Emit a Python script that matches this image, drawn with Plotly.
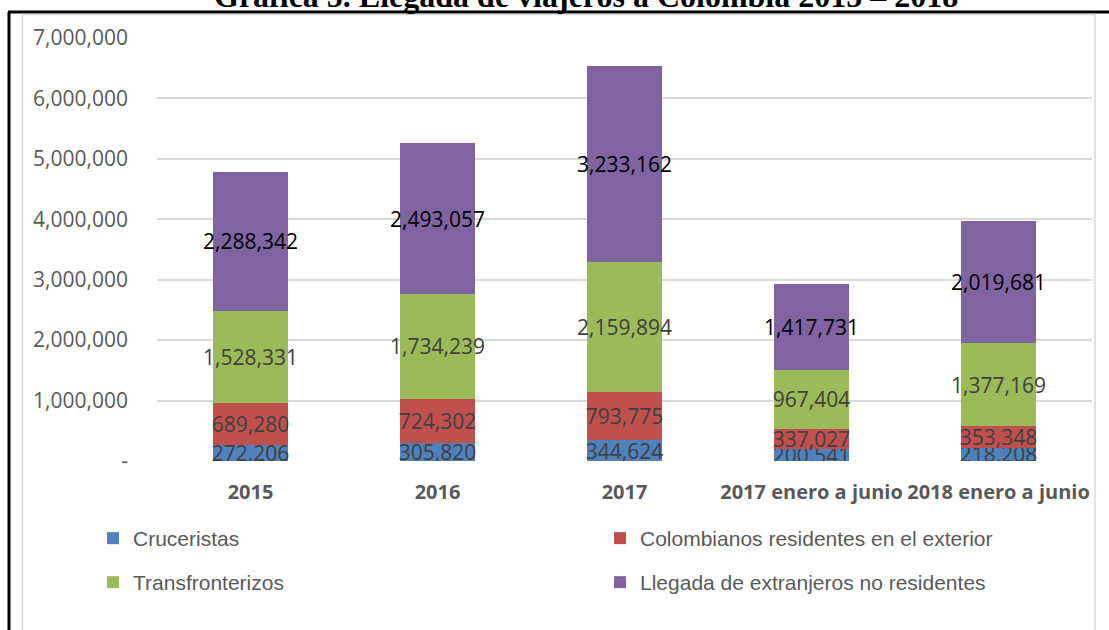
import plotly.graph_objects as go

categories = ["2015", "2016", "2017", "2017 enero a junio", "2018 enero a junio"]
cruceristas = [272206, 305820, 344624, 200541, 218208]
colombianos = [689280, 724302, 793775, 337027, 353348]
transfronterizos = [1528331, 1734239, 2159894, 967404, 1377169]
extranjeros = [2288342, 2493057, 3233162, 1417731, 2019681]
series_names = ["Cruceristas", "Colombianos residentes en el exterior",
                "Transfronterizos", "Llegada de extranjeros no residentes"]
y_tickvals = [0, 1000000, 2000000, 3000000, 4000000, 5000000, 6000000, 7000000]
y_ticktext = ["-", "1,000,000", "2,000,000", "3,000,000", "4,000,000",
              "5,000,000", "6,000,000", "7,000,000"]
title_text = "Gráfica 5. Llegada de viajeros a Colombia 2015 – 2018"

colors = ["#4F81BD", "#C0504D", "#9BBB59", "#8064A2"]
label_colors = ["#404040", "#404040", "#404040", "#000000"]
legends = ["legend", "legend", "legend2", "legend2"]
W, H = 1109, 630
L, R, T, B = 157, 1092, 38, 461

def px_x(px):
    return (px - L) / (R - L)

def px_y(py):
    return (B - py) / (B - T)

fig = go.Figure()
for name, vals, c, lc, lg in zip(series_names,
                                 [cruceristas, colombianos, transfronterizos, extranjeros],
                                 colors, label_colors, legends):
    fig.add_trace(go.Bar(
        x=categories, y=vals, name=name, marker=dict(color=c, line=dict(width=0)),
        text=[f"{v:,}" for v in vals], textposition="inside", textangle=0,
        insidetextanchor="middle", constraintext="none",
        insidetextfont=dict(family="Open Sans", size=21, color=lc),
        legend=lg, width=0.4,
    ))

grey = "#D9D9D9"
shapes = [
    dict(type="line", xref="paper", yref="paper", x0=px_x(8), x1=px_x(1109),
         y0=px_y(12), y1=px_y(12), line=dict(color="black", width=3)),
    dict(type="line", xref="paper", yref="paper", x0=px_x(9), x1=px_x(9),
         y0=px_y(12), y1=px_y(640), line=dict(color="black", width=3)),
    dict(type="rect", xref="paper", yref="paper", x0=px_x(22.5), x1=px_x(1095),
         y0=px_y(650), y1=px_y(14.5), line=dict(color=grey, width=1.5)),
]

fig.update_layout(
    width=W, height=H,
    margin=dict(l=L, r=W - R, t=T, b=H - B, autoexpand=False),
    paper_bgcolor="white", plot_bgcolor="white",
    barmode="stack", bargap=0.6,
    font=dict(family="Open Sans", color="#595959"),
    annotations=[dict(text=f"<b>{title_text}</b>", xref="paper", yref="paper",
                      x=px_x(586), y=px_y(-4), xanchor="center", yanchor="middle",
                      showarrow=False,
                      font=dict(family="Liberation Serif", size=32, color="black"))],
    xaxis=dict(tickfont=dict(family="Open Sans", size=20, color="#595959", weight="bold"),
               showline=False, ticks="", ticklabelstandoff=17, showgrid=False),
    yaxis=dict(range=[0, 7000000], tickvals=y_tickvals, ticktext=y_ticktext,
               tickfont=dict(family="Open Sans", size=21, color="#595959"),
               showgrid=True, gridcolor=grey, gridwidth=1.5, zeroline=False,
               ticks="", ticklabelstandoff=28, showline=False),
    legend=dict(orientation="h", x=px_x(93), y=px_y(518), xanchor="left", yanchor="top",
                font=dict(family="Liberation Sans", size=21, color="#595959"),
                entrywidth=462, traceorder="normal", bgcolor="rgba(0,0,0,0)"),
    legend2=dict(orientation="h", x=px_x(93), y=px_y(562), xanchor="left", yanchor="top",
                 font=dict(family="Liberation Sans", size=21, color="#595959"),
                 entrywidth=462, traceorder="normal", bgcolor="rgba(0,0,0,0)"),
    shapes=shapes,
    showlegend=True,
)

fig.write_html("out.html", config={"displayModeBar": False},
               post_script="document.body.style.margin='0';document.body.style.overflow='hidden';")
